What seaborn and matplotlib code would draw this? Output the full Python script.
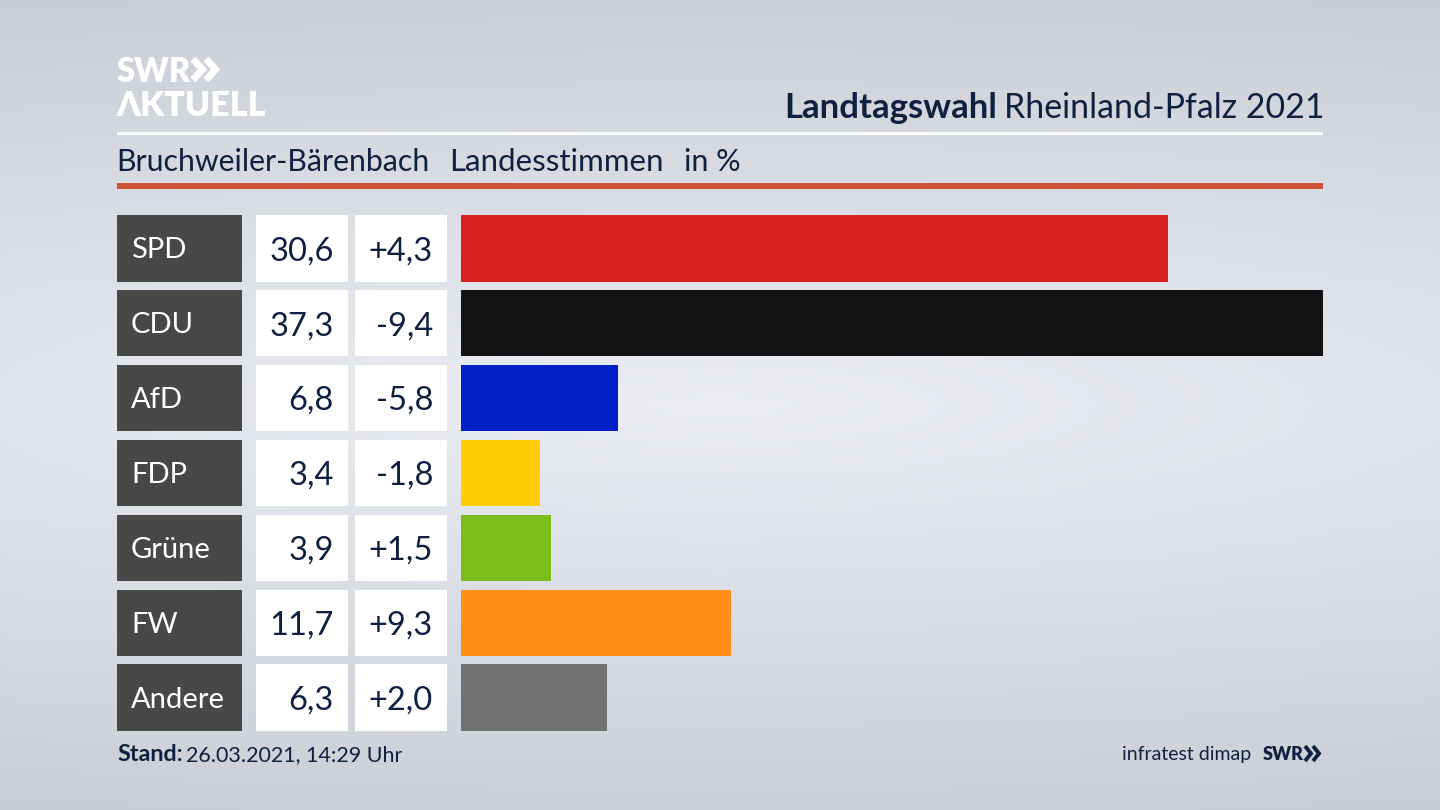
import numpy as np
import pandas as pd
import seaborn as sns
import matplotlib.pyplot as plt
from matplotlib.patches import Rectangle

parties = ['SPD', 'CDU', 'AfD', 'FDP', 'Grüne', 'FW', 'Andere']
shares = [30.6, 37.3, 6.8, 3.4, 3.9, 11.7, 6.3]
share_labels = ['30,6', '37,3', '6,8', '3,4', '3,9', '11,7', '6,3']
change_labels = ['+4,3', '-9,4', '-5,8', '-1,8', '+1,5', '+9,3', '+2,0']
colors = ['#d8201f', '#121212', '#0021c8', '#ffcc08', '#7cbd19', '#ff8e14', '#707173']

NAVY = '#0f2140'
FONT = 'Lato'

sns.set_theme(style='white')
plt.rcParams['font.family'] = [FONT, 'DejaVu Sans']

fig = plt.figure(figsize=(14.4, 8.1), dpi=100)

# background and everything that is not a bar, in pixel coordinates
bg = fig.add_axes([0, 0, 1, 1])
bg.set_xlim(0, 1440)
bg.set_ylim(810, 0)
bg.axis('off')
yy, xx = np.mgrid[0:1:162j, 0:1:288j]
dist = np.sqrt(((xx - 0.5) * 0.4) ** 2 + ((yy - 0.5) * 1.25) ** 2)
shade = np.clip(dist / 0.68, 0, 1)
light = np.array([235, 237, 243]) / 255
dark = np.array([200, 204, 212]) / 255
bg.imshow(light + (dark - light) * shade[..., None], extent=(0, 1440, 810, 0), aspect='auto', zorder=0)

# logo
bg.text(117, 82, 'SWR', color='white', fontsize=23.5, fontweight='heavy', va='baseline')
bg.text(116, 116, 'ΛKTUELL', color='white', fontsize=24.5, fontweight='heavy', va='baseline')
for x0 in (193, 206):
    bg.plot([x0, x0 + 9.5, x0], [59, 69.5, 80], color='white', lw=5, solid_joinstyle='miter', solid_capstyle='butt')

# header
bg.text(997, 118, 'Landtagswahl', color=NAVY, fontsize=25, fontweight='bold', ha='right', va='baseline')
bg.text(1324, 118, 'Rheinland-Pfalz 2021', color=NAVY, fontsize=24.4, ha='right', va='baseline')
bg.add_patch(Rectangle((117, 132), 1206, 3, color='white', lw=0))
bg.text(116, 171, 'Bruchweiler-Bärenbach', color=NAVY, fontsize=21.8, va='baseline')
bg.text(449, 171, 'Landesstimmen', color=NAVY, fontsize=22.5, va='baseline')
bg.text(684, 171, 'in %', color=NAVY, fontsize=22, va='baseline')
bg.add_patch(Rectangle((117, 183), 1206, 6, color='#cf5238', lw=0))

# table cells beside the bars
for i, party in enumerate(parties):
    top = 215 + i * 74.9
    mid = top + 33.2
    bg.add_patch(Rectangle((117, top), 124.5, 66.5, color='#484846', lw=0))
    bg.add_patch(Rectangle((256, top), 92, 66.5, color='white', lw=0))
    bg.add_patch(Rectangle((355, top), 92, 66.5, color='white', lw=0))
    bg.text(131, mid + 10, party, color='white', fontsize=21, va='baseline')
    bg.text(334, mid + 12, share_labels[i], color=NAVY, fontsize=23.5, ha='right', va='baseline')
    bg.text(433, mid + 12, change_labels[i], color=NAVY, fontsize=23.5, ha='right', va='baseline')

# footer
bg.text(117, 761, 'Stand:', color=NAVY, fontsize=16.8, fontweight='bold', va='baseline')
bg.text(186, 761, '26.03.2021, 14:29 Uhr', color=NAVY, fontsize=15.5, va='baseline')
bg.text(1251, 760, 'infratest dimap', color=NAVY, fontsize=14, ha='right', va='baseline')
bg.text(1263, 760, 'SWR', color=NAVY, fontsize=13, fontweight='heavy', va='baseline')
for x0 in (1305, 1313):
    bg.plot([x0, x0 + 6, x0], [746, 753.5, 761], color=NAVY, lw=2.8, solid_joinstyle='miter', solid_capstyle='butt')

# bars
df = pd.DataFrame({'party': parties, 'share': shares})
step = 74.9
ax = fig.add_axes([461 / 1440, 1 - (215 - 4.2 + 7 * step) / 810, 862 / 1440, 7 * step / 810])
ax.patch.set_alpha(0)
sns.barplot(data=df, x='share', y='party', hue='party', palette=colors, legend=False,
            orient='h', width=66.5 / step, saturation=1, linewidth=0, ax=ax)
ax.set_xlim(0, max(shares))
ax.set_ylim(6.5, -0.5)
ax.axis('off')

fig.savefig('out.png', dpi=100)
